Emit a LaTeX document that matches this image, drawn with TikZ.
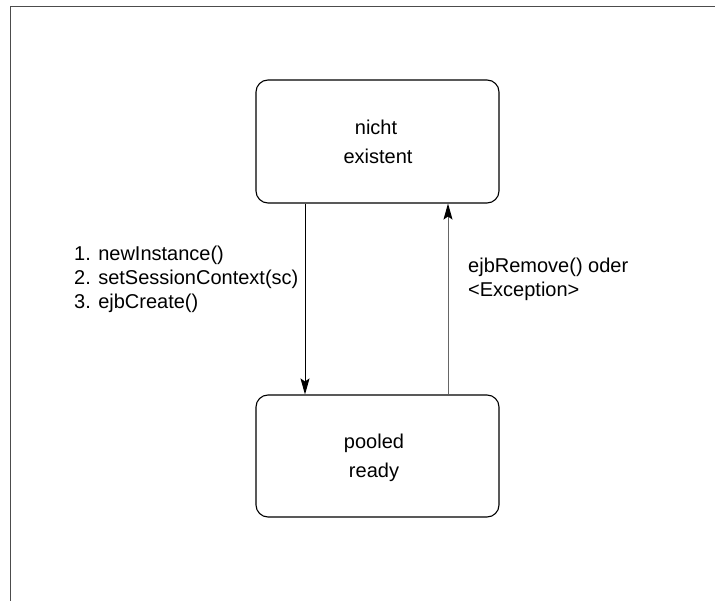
\documentclass[tikz,border=0pt]{standalone}
\usepackage{fontspec}
\setmainfont{Liberation Sans}
\usetikzlibrary{arrows.meta}
\begin{document}
\begin{tikzpicture}[x=1pt,y=-1pt,
  state/.style={draw=black, line width=1.1pt, rounded corners=12pt, minimum width=243pt, minimum height=123pt, inner sep=0pt},
  lbl/.style={font=\fontsize{20}{24}\selectfont, inner sep=0pt},
  arr/.style={-{Stealth[length=16pt,width=9pt,inset=3pt,color=black]}, line width=1pt}]
\useasboundingbox (0,0) rectangle (715,601);
\draw[line width=1.5pt, black!70] (10.5,601) -- (10.5,6.5) -- (715,6.5);
\node[state] (top) at (377.5,141.5) {};
\node[state, minimum height=122pt] (bot) at (377.5,456) {};
\node[lbl, anchor=base] (t1) at (376,135) {nicht};
\node[lbl, anchor=base] (t2) at (378,164) {existent};
\node[lbl, anchor=base] (b1) at (374,449) {pooled};
\node[lbl, anchor=base] (b2) at (374,478) {ready};
\coordinate (dx) at (305,0);
\coordinate (ux) at (448,0);
\draw[arr] (dx |- top.south) -- (dx |- bot.north);
\draw[arr, draw=black!60] (ux |- bot.north) -- (ux |- top.south);
\node[lbl, anchor=base west] (l1) at (74,261) {1. newInstance()};
\node[lbl, anchor=base west] (l2) at (74,285) {2. setSessionContext(sc)};
\node[lbl, anchor=base west] (l3) at (74,309) {3. ejbCreate()};
\node[lbl, anchor=base west] (r1) at (468,273) {ejbRemove() oder};
\node[lbl, anchor=base west] (r2) at (468,297) {<Exception>};
\end{tikzpicture}
\end{document}
